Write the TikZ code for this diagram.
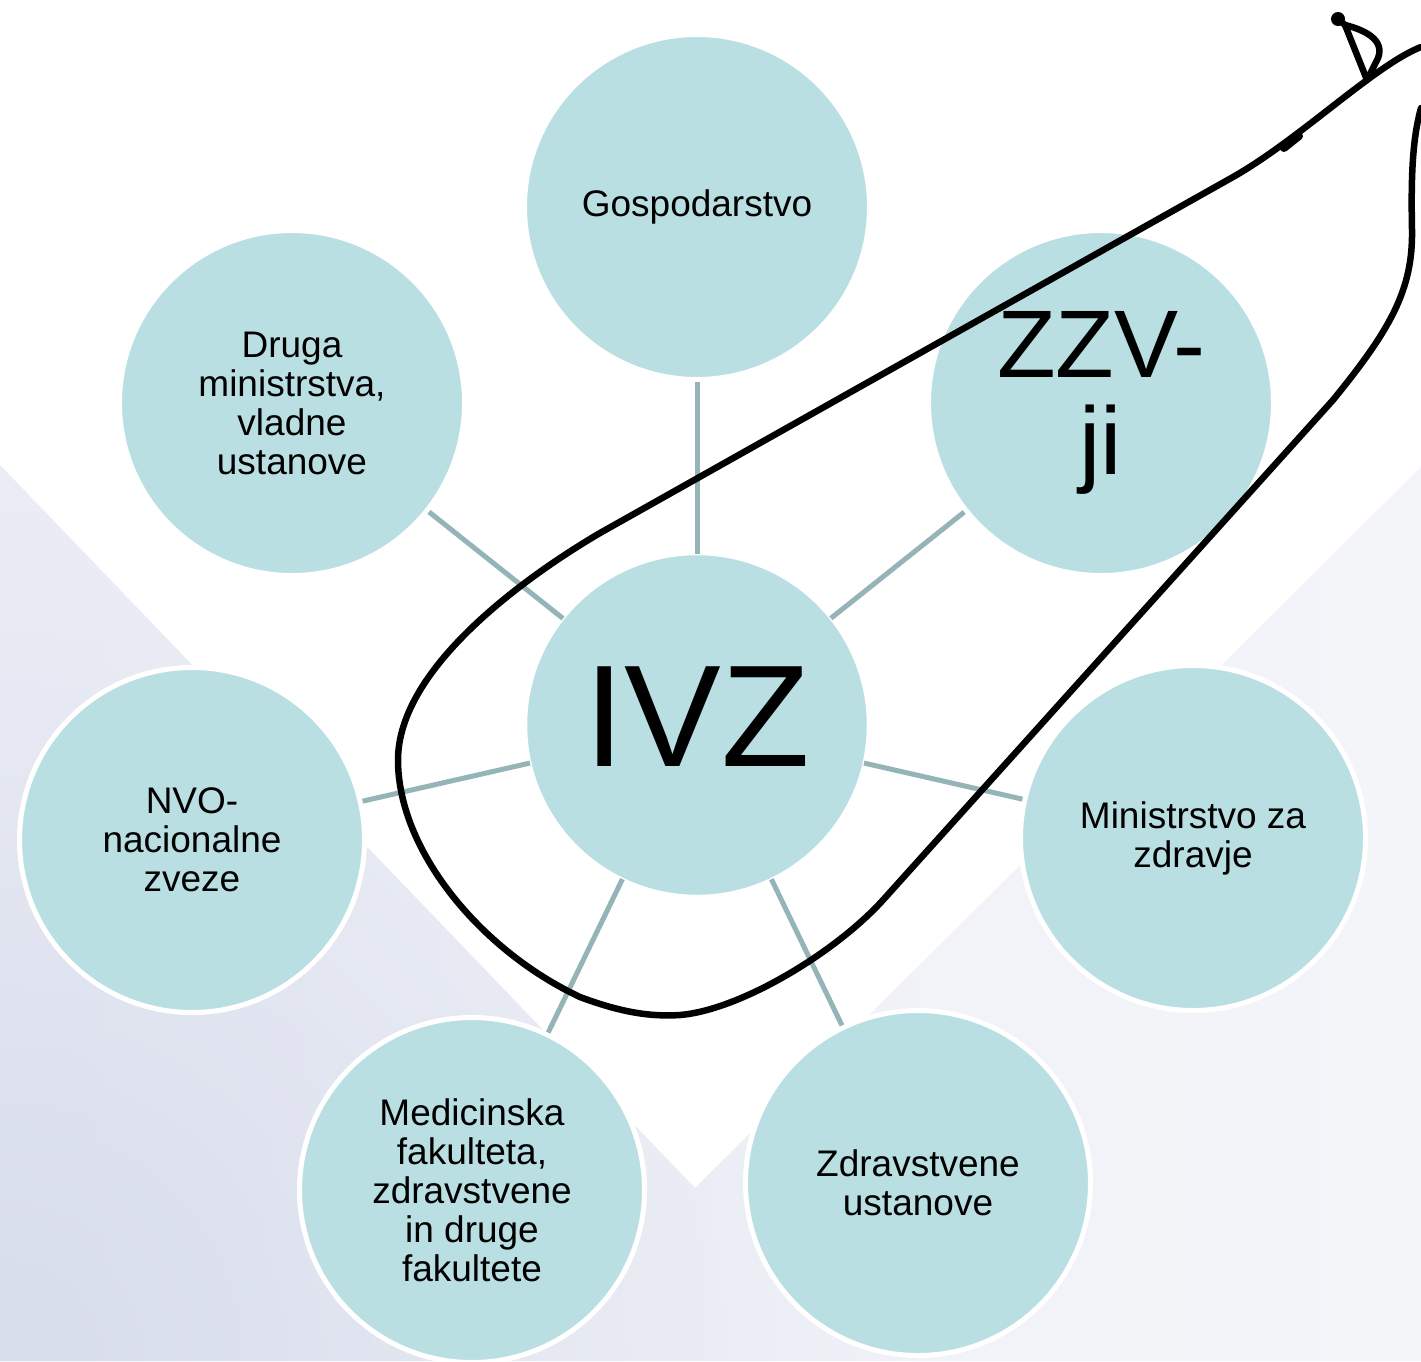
\documentclass[tikz,border=0pt]{standalone}
\usepackage{fontspec}
\setmainfont{Liberation Sans}
\usetikzlibrary{fadings}
\definecolor{circfill}{RGB}{186,223,226}
\definecolor{conn}{RGB}{148,180,184}
\definecolor{bgleft}{RGB}{236,238,246}
\definecolor{bgright}{RGB}{244,245,249}
\definecolor{bgdark}{RGB}{212,218,234}
\tikzfading[name=fuzzyglow, inner color=transparent!15, outer color=transparent!100]
\begin{document}
\begin{tikzpicture}[x=1pt,y=-1pt,
  bubble/.style={circle, fill=circfill, draw=white, line width=5pt, minimum size=345pt,
    inner sep=0pt, align=center, text=black, font=\fontsize{37}{39}\selectfont},
  link/.style={draw=conn, line width=5pt},
  hand/.style={draw=black, line width=6.5pt, line cap=round, line join=round}]
\useasboundingbox (0,0) rectangle (1421,1361);
% background
\fill[white] (0,0) rectangle (1421,1361);
\begin{scope}
  \clip (0,465) -- (695,1188) -- (1421,467) -- (1421,1361) -- (0,1361) -- cycle;
  \shade[left color=bgleft, right color=bgright] (0,465) rectangle (1421,1361);
  \fill[bgdark, path fading=fuzzyglow] (0,1361) circle (900pt);
\end{scope}
% nodes
\node[bubble, minimum size=341pt, line width=1.5pt, font=\fontsize{145}{145}\selectfont, text depth=16pt] (ivz) at (697,725) {IVZ};
\node[bubble] (gos) at (697,207) {Gospodarstvo};
\node[bubble] (dru) at (292,403) {Druga\\ministrstva,\\vladne\\ustanove};
\node[bubble, font=\fontsize{96}{97}\selectfont] (zzv) at (1101,403) {ZZV-\\ji};
\node[bubble] (nvo) at (192,840) {NVO-\\nacionalne\\zveze};
\node[bubble] (min) at (1193,838) {Ministrstvo za\\zdravje};
\node[bubble] (med) at (472,1190) {Medicinska\\fakulteta,\\zdravstvene\\in druge\\fakultete};
\node[bubble] (zdr) at (918,1183) {Zdravstvene\\ustanove};
% connectors
\foreach \n in {gos,dru,zzv,nvo,min,med,zdr} \draw[link] (ivz) -- (\n);
% hand-drawn loop
\draw[hand] (1421,47) .. controls (1375,65) and (1300,139) .. (1233,177)
  -- (600,533)
  .. controls (520,580) and (398,670) .. (398,760)
  .. controls (398,850) and (480,950) .. (580,997)
  .. controls (620,1012) and (650,1017) .. (680,1015)
  .. controls (740,1010) and (835,953) .. (883,900)
  -- (1333,400)
  .. controls (1390,330) and (1413,290) .. (1412,230)
  .. controls (1411,180) and (1412,140) .. (1421,108);
\coordinate (dtop) at (1345,25);
\coordinate (dbot) at (1367,80);
\fill (1338,19) circle (7pt);
\draw[hand] (1338,19) -- (dtop);
\draw[hand] (dtop) -- (dbot);
\draw[hand] (dtop) .. controls (1365,30) and (1385,40) .. (1378,58) .. controls (1374,66) and (1370,74) .. (dbot);
\draw[hand, line width=8pt] (1284,148) -- (1299,136);
\end{tikzpicture}
\end{document}
